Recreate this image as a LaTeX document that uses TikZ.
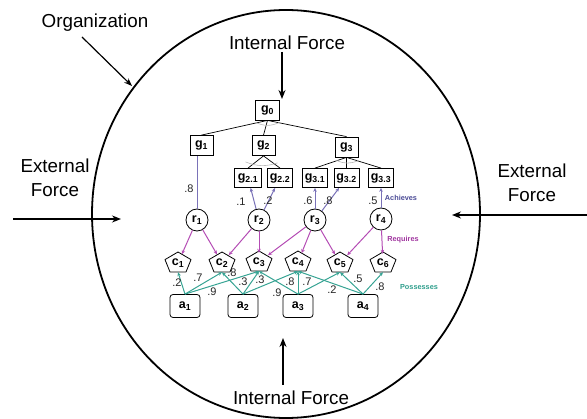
\documentclass[tikz,border=0pt]{standalone}
\usepackage{fontspec}
\setmainfont{Liberation Sans}
\usetikzlibrary{shapes.geometric,arrows.meta}
\definecolor{achcol}{HTML}{7A72B8}
\definecolor{achtxt}{HTML}{4B4B96}
\definecolor{reqcol}{HTML}{B44CB4}
\definecolor{reqtxt}{HTML}{A0359F}
\definecolor{poscol}{HTML}{36A393}
\definecolor{postxt}{HTML}{2F9E8C}
\begin{document}
\begin{tikzpicture}[x=1pt,y=-1pt,
  lbl/.style={font=\fontsize{12.5}{13}\selectfont\bfseries},
  goal/.style={draw,line width=0.8pt,minimum width=23pt,minimum height=20pt,inner sep=1pt,lbl},
  subgoal/.style={goal,minimum width=25pt,minimum height=19pt},
  role/.style={draw,circle,line width=0.8pt,minimum size=22pt,inner sep=0pt,lbl},
  capab/.style={ellipse,minimum width=26pt,minimum height=18pt,inner sep=0pt,lbl},
  agent/.style={draw,rounded corners=3pt,line width=0.8pt,minimum width=30pt,minimum height=23pt,inner sep=0pt,lbl},
  wt/.style={font=\fontsize{11}{11}\selectfont,text=black!85,inner sep=0pt},
  kind/.style={font=\fontsize{7.3}{8}\selectfont\bfseries,inner sep=0pt},
  force/.style={font=\fontsize{18.8}{24}\selectfont,align=center,inner sep=0pt},
  tree/.style={line width=0.7pt},
  andarc/.style={gray!55,line width=0.6pt},
  achieves/.style={achcol,line width=1pt,-{Stealth[length=4pt,width=3.5pt]}},
  requires/.style={reqcol,line width=1pt,-{Stealth[length=4pt,width=3.5pt]}},
  possesses/.style={poscol,line width=1pt,-{Stealth[length=4pt,width=3.5pt]}},
  push/.style={line width=1.4pt,-{Stealth[length=9pt,width=7pt]}},
]
\useasboundingbox (0,0) rectangle (587,419);

% organization boundary
\draw[line width=1.8pt] (286,214) ellipse [x radius=194pt, y radius=204pt];

% surrounding labels and forces
\node[force] (org) at (95,23) {Organization};
\node[force] (itop) at (287,43) {Internal Force};
\node[force] (ibot) at (291,398) {Internal Force};
\node[force] (eleft) at (55,178) {External\\Force};
\node[force] (eright) at (532,183) {External\\Force};

\coordinate (orgs) at (82,37);   \coordinate (orge) at (132,86);
\coordinate (tops) at (282,52);  \coordinate (tope) at (282,99);
\coordinate (bots) at (283,385); \coordinate (bote) at (283,338);
\coordinate (lfts) at (13,219);  \coordinate (lfte) at (121,219);
\coordinate (rgts) at (590,215); \coordinate (rgte) at (452,215);
\draw[line width=1.2pt,-{Stealth[length=8pt,width=6pt]}] (orgs) -- (orge);
\draw[push] (tops) -- (tope);
\draw[push] (bots) -- (bote);
\draw[push] (lfts) -- (lfte);
\draw[push] (rgts) -- (rgte);

% goals
\node[goal,minimum width=24pt] (g0) at (267.5,110) {g\textsubscript{0}};
\node[goal] (g1) at (201.5,145.5) {g\textsubscript{1}};
\node[goal] (g2) at (263.5,145.5) {g\textsubscript{2}};
\node[goal] (g3) at (346.5,147) {g\textsubscript{3}};
\node[subgoal,minimum width=27pt] (g21) at (248,178) {g\textsubscript{2.1}};
\node[subgoal] (g22) at (280,178) {g\textsubscript{2.2}};
\node[subgoal] (g31) at (315,178) {g\textsubscript{3.1}};
\node[subgoal] (g32) at (346.5,178) {g\textsubscript{3.2}};
\node[subgoal] (g33) at (381,178) {g\textsubscript{3.3}};

% goal decomposition
\draw[tree] (g0.south) -- (g1.north);
\draw[tree] (g0.south) -- (g2.north);
\draw[tree] (g0.south) -- (g3.north);
\draw[tree] (g2.south) -- (g21.north);
\draw[tree] (g2.south) -- (g22.north);
\draw[tree] (g3.south) -- (g31.north);
\draw[tree] (g3.south) -- (g32.north);
\draw[tree] (g3.south) -- (g33.north);
\draw[andarc] ([shift={(-12,2)}]g0.south) to[bend right=25] ([shift={(12,2)}]g0.south);
\draw[andarc] ([shift={(-18,6)}]g2.south) to[bend right=20] ([shift={(14,7)}]g2.south);
\draw[andarc] ([shift={(-10,3)}]g3.south) to[bend right=25] ([shift={(12,3)}]g3.south);

% roles
\node[role] (r1) at (197,220) {r\textsubscript{1}};
\node[role] (r2) at (259,220) {r\textsubscript{2}};
\node[role] (r3) at (315,220) {r\textsubscript{3}};
\node[role] (r4) at (381,219) {r\textsubscript{4}};

% capabilities
\node[capab] (c1) at (178,263) {c\textsubscript{1}};
\node[capab] (c2) at (222,263) {c\textsubscript{2}};
\node[capab] (c3) at (259,262) {c\textsubscript{3}};
\node[capab] (c4) at (298,262) {c\textsubscript{4}};
\node[capab] (c5) at (340,263) {c\textsubscript{5}};
\node[capab] (c6) at (383,263) {c\textsubscript{6}};
\foreach \c in {c1,c2,c3,c4,c5,c6}
  \draw[line width=0.8pt,line join=round]
    ([shift={(0,-11)}]\c.center) -- ([shift={(13,-3.4)}]\c.center)
    -- ([shift={(8,9)}]\c.center) -- ([shift={(-8,9)}]\c.center)
    -- ([shift={(-13,-3.4)}]\c.center) -- cycle;

% agents
\node[agent] (a1) at (185,306) {a\textsubscript{1}};
\node[agent] (a2) at (243,306) {a\textsubscript{2}};
\node[agent] (a3) at (298,306) {a\textsubscript{3}};
\node[agent] (a4) at (363,306) {a\textsubscript{4}};

% achieves
\draw[achcol,line width=1pt] (r1) -- (r1 |- g1.south);
\draw[achieves] (r2) -- (g21);
\draw[achieves] (r2) -- (g22);
\draw[achieves] (r3) -- (g31);
\draw[achieves] (r3) -- (g32);
\draw[achieves] (r4) -- (g33);
\node[wt] (w1) at (189,189) {.8};
\node[wt] (w2) at (241,202) {.1};
\node[wt] (w3) at (268,201) {.2};
\node[wt] (w4) at (308,201) {.6};
\node[wt] (w5) at (328,201) {.8};
\node[wt] (w6) at (373,201) {.5};
\node[kind,text=achtxt] (kach) at (401,198) {Achieves};

% requires
\draw[requires] (r1) -- (c1);
\draw[requires] (r1) -- (c2);
\draw[requires] (r2) -- (c2);
\draw[requires] (r2) -- (c3);
\draw[requires] (r3) -- (c3);
\draw[requires] (r3) -- (c4);
\draw[requires] (r3) -- (c5);
\draw[requires] (r4) -- (c5);
\draw[requires] (r4) -- (c6);
\node[kind,text=reqtxt] (kreq) at (403,240) {Requires};

% possesses
\draw[possesses] (a1.north) -- (c1.south);
\draw[possesses] (a1.north) -- (c2.south);
\draw[possesses] (a1.north) -- (c3.south);
\draw[possesses] (a2.north) -- (c2.south);
\draw[possesses] (a2.north) -- (c3.south);
\draw[possesses] (a2.north) -- (c4.south);
\draw[possesses] (a3.north) -- (c3.south);
\draw[possesses] (a3.north) -- (c4.south);
\draw[possesses] (a3.north) -- (c5.south);
\draw[possesses] (a4.north) -- (c4.south);
\draw[possesses] (a4.north) -- (c5.south);
\draw[possesses] (a4.north) -- (c6.south);
\node[wt] (p1) at (177,283) {.2};
\node[wt] (p2) at (198,278) {.7};
\node[wt] (p3) at (212,292) {.9};
\node[wt] (p4) at (232,273) {.8};
\node[wt] (p5) at (243,282) {.3};
\node[wt] (p6) at (260,280) {.3};
\node[wt] (p7) at (277,293) {.9};
\node[wt] (p8) at (290,282) {.8};
\node[wt] (p9) at (307,282) {.7};
\node[wt] (p10) at (332,290) {.2};
\node[wt] (p11) at (358,279) {.5};
\node[wt] (p12) at (380,287) {.8};
\node[kind,text=postxt] (kpos) at (419,287) {Possesses};
\end{tikzpicture}
\end{document}
